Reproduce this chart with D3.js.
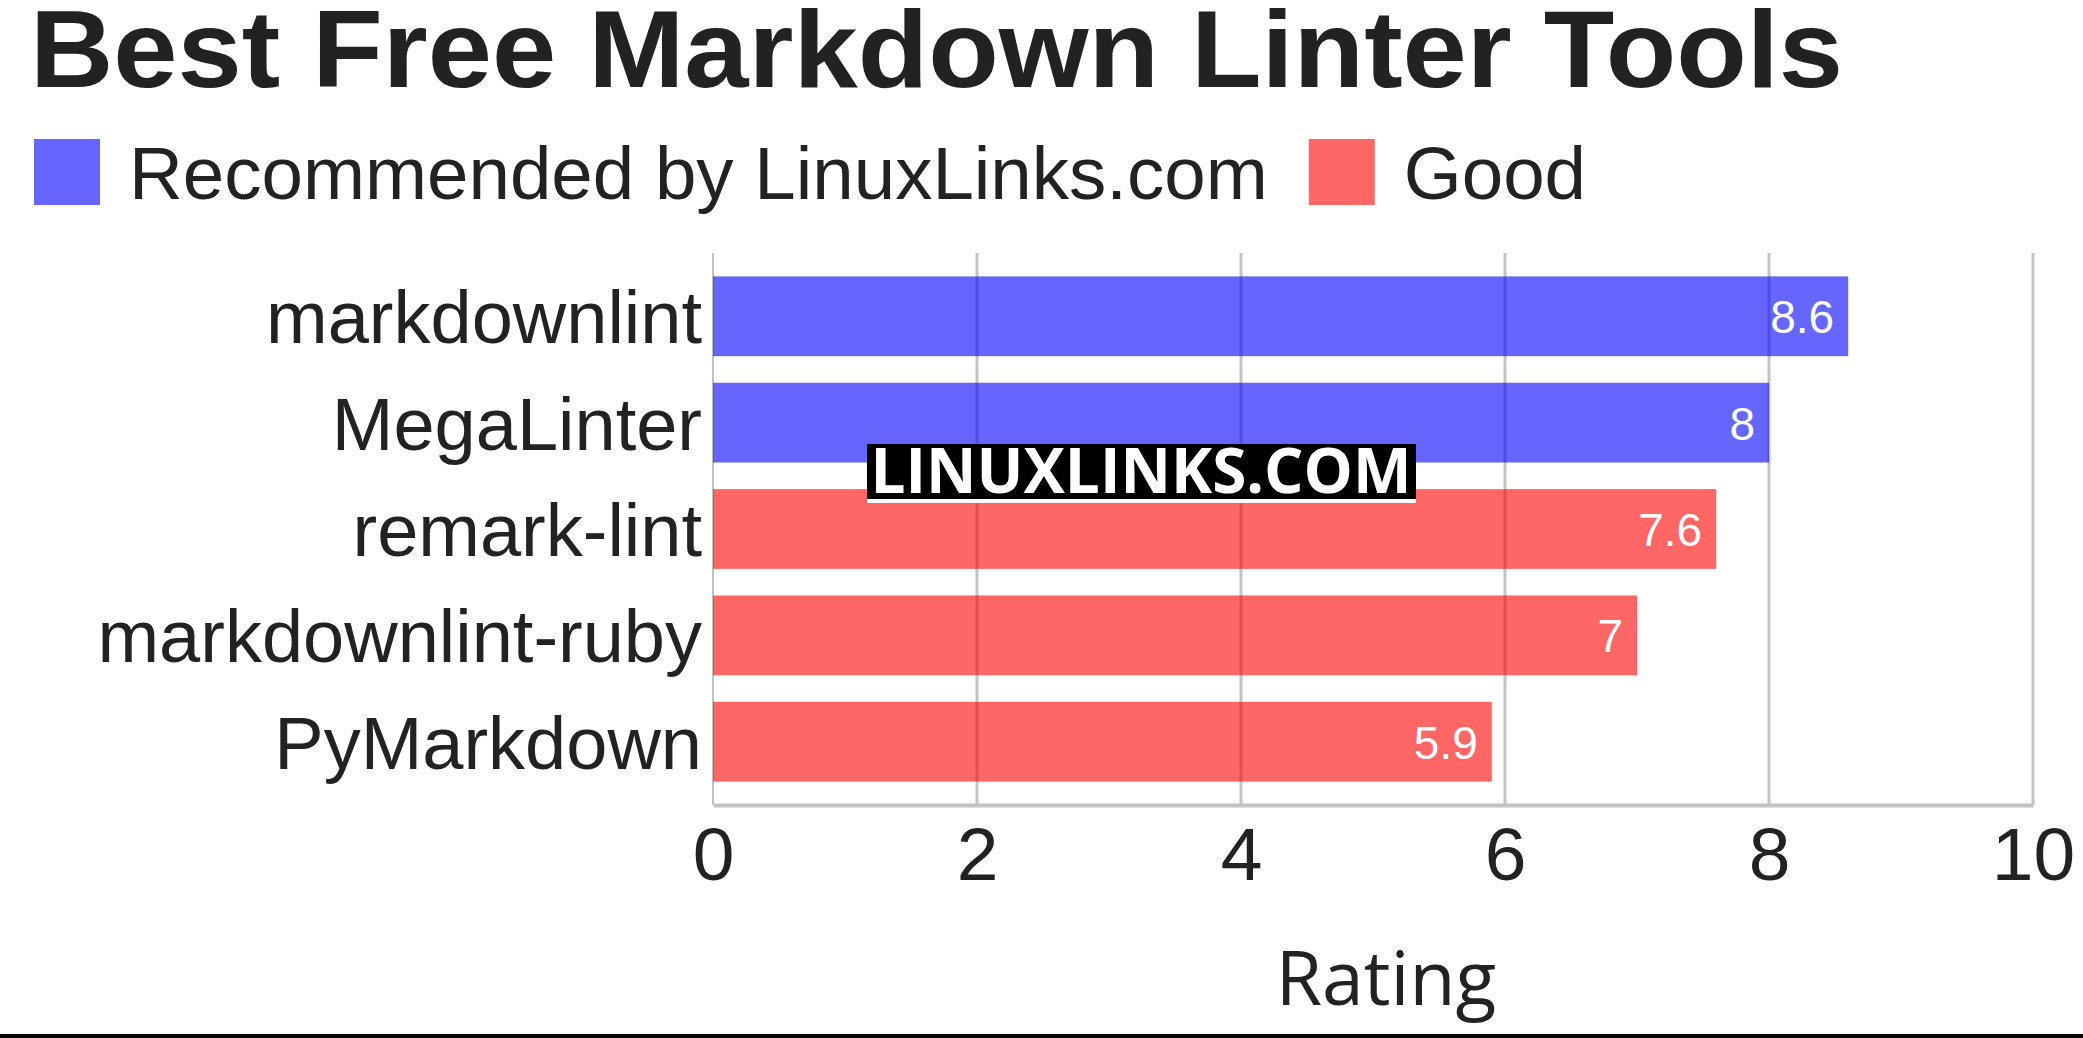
<!DOCTYPE html>
<html>
<head>
<meta charset="utf-8">
<script src="https://cdn.jsdelivr.net/npm/d3@7"></script>
<style>
  html, body { margin: 0; padding: 0; background: #fff; }
  svg { display: block; }
</style>
</head>
<body>
<svg id="chart" width="2083" height="1038"></svg>
<script>
// Ratings of free Markdown linters
const tools = ["markdownlint", "MegaLinter", "remark-lint", "markdownlint-ruby", "PyMarkdown"];
const ratings = [8.6, 8, 7.6, 7, 5.9];
const groups = ["Recommended", "Recommended", "Good", "Good", "Good"];
const legendLabels = ["Recommended by LinuxLinks.com", "Good"];
const xTicks = [0, 2, 4, 6, 8, 10];

const svg = d3.select("#chart");
const W = 2083, H = 1038;
const margin = { left: 713, right: 50, top: 253, bottom: 233 };

const barColor = { Recommended: "#0000ff", Good: "#ff0000" };

const x = d3.scaleLinear().domain([0, 10]).range([margin.left, W - margin.right]);
const y = d3.scaleBand().domain(tools).range([margin.top, H - margin.bottom])
  .paddingInner(0.25).paddingOuter(0.22);

// Title
svg.append("text")
  .attr("x", 30).attr("y", 87)
  .attr("font-family", "Liberation Sans, Arial, sans-serif")
  .attr("font-weight", "bold").attr("font-size", 110)
  .attr("fill", "#222")
  .attr("textLength", 1813).attr("lengthAdjust", "spacingAndGlyphs")
  .text("Best Free Markdown Linter Tools");

// Legend
const legend = svg.append("g").attr("font-family", "Liberation Sans, Arial, sans-serif");
let lx = 34;
legendLabels.forEach((lab, i) => {
  const key = i === 0 ? "Recommended" : "Good";
  legend.append("rect").attr("x", lx).attr("y", 139).attr("width", 66).attr("height", 66)
    .attr("fill", barColor[key]).attr("fill-opacity", 0.6);
  const t = legend.append("text").attr("x", lx + 95).attr("y", 199)
    .attr("font-size", 74.5).attr("fill", "#222").text(lab);
  lx = lx + 95 + t.node().getComputedTextLength() + 41;
});

// Gridlines
const grid = svg.append("g");
grid.selectAll("line").data(xTicks).join("line")
  .attr("x1", d => x(d)).attr("x2", d => x(d))
  .attr("y1", margin.top).attr("y2", H - margin.bottom)
  .attr("stroke", "#c2c2c2")
  .attr("stroke-width", d => d === 0 ? 2 : 3);

// Bars
svg.append("g").selectAll("rect").data(tools).join("rect")
  .attr("x", x(0))
  .attr("y", d => y(d))
  .attr("width", (d, i) => x(ratings[i]) - x(0))
  .attr("height", y.bandwidth())
  .attr("fill", (d, i) => barColor[groups[i]])
  .attr("fill-opacity", 0.6);

// Value labels inside bars
svg.append("g").selectAll("text").data(tools).join("text")
  .attr("x", (d, i) => x(ratings[i]) - 14)
  .attr("y", d => y(d) + y.bandwidth() / 2 + 17)
  .attr("text-anchor", "end")
  .attr("font-family", "Liberation Sans, Arial, sans-serif")
  .attr("font-size", 46).attr("fill", "#fff")
  .text((d, i) => ratings[i]);

// Category axis
const yAxis = svg.append("g").attr("transform", `translate(${margin.left},0)`)
  .call(d3.axisLeft(y).tickSize(0).tickPadding(11));
yAxis.select(".domain").remove();
yAxis.selectAll("text")
  .attr("font-family", "Liberation Sans, Arial, sans-serif")
  .attr("font-size", 74).attr("fill", "#222")
  .attr("dy", 27);

// Value axis
const xAxis = svg.append("g").attr("transform", `translate(0,${H - margin.bottom})`)
  .call(d3.axisBottom(x).tickValues(xTicks).tickSize(0).tickPadding(22));
xAxis.select(".domain").attr("stroke", "#c2c2c2").attr("stroke-width", 4);
xAxis.selectAll("text")
  .attr("font-family", "Liberation Sans, Arial, sans-serif")
  .attr("font-size", 75).attr("fill", "#222")
  .attr("dy", "0.71em");

// Axis title
svg.append("text")
  .attr("x", 1386).attr("y", 1005)
  .attr("text-anchor", "middle")
  .attr("font-family", "Open Sans, Noto Sans, sans-serif")
  .attr("font-size", 75).attr("fill", "#222")
  .text("Rating");

// Bottom rule
svg.append("rect").attr("x", 0).attr("y", 1034).attr("width", W).attr("height", 4).attr("fill", "#000");

// Site badge
const badge = svg.append("g");
badge.append("rect").attr("x", 867).attr("y", 444).attr("width", 549).attr("height", 59).attr("fill", "#fff");
badge.append("rect").attr("x", 867).attr("y", 444).attr("width", 549).attr("height", 55).attr("fill", "#000");
badge.append("text")
  .attr("x", 1141).attr("y", 493)
  .attr("text-anchor", "middle")
  .attr("font-family", "Open Sans, Noto Sans, sans-serif")
  .attr("font-weight", "bold").attr("font-size", 63)
  .attr("fill", "#fff")
  .attr("textLength", 541).attr("lengthAdjust", "spacingAndGlyphs")
  .text("LINUXLINKS.COM");
</script>
</body>
</html>
